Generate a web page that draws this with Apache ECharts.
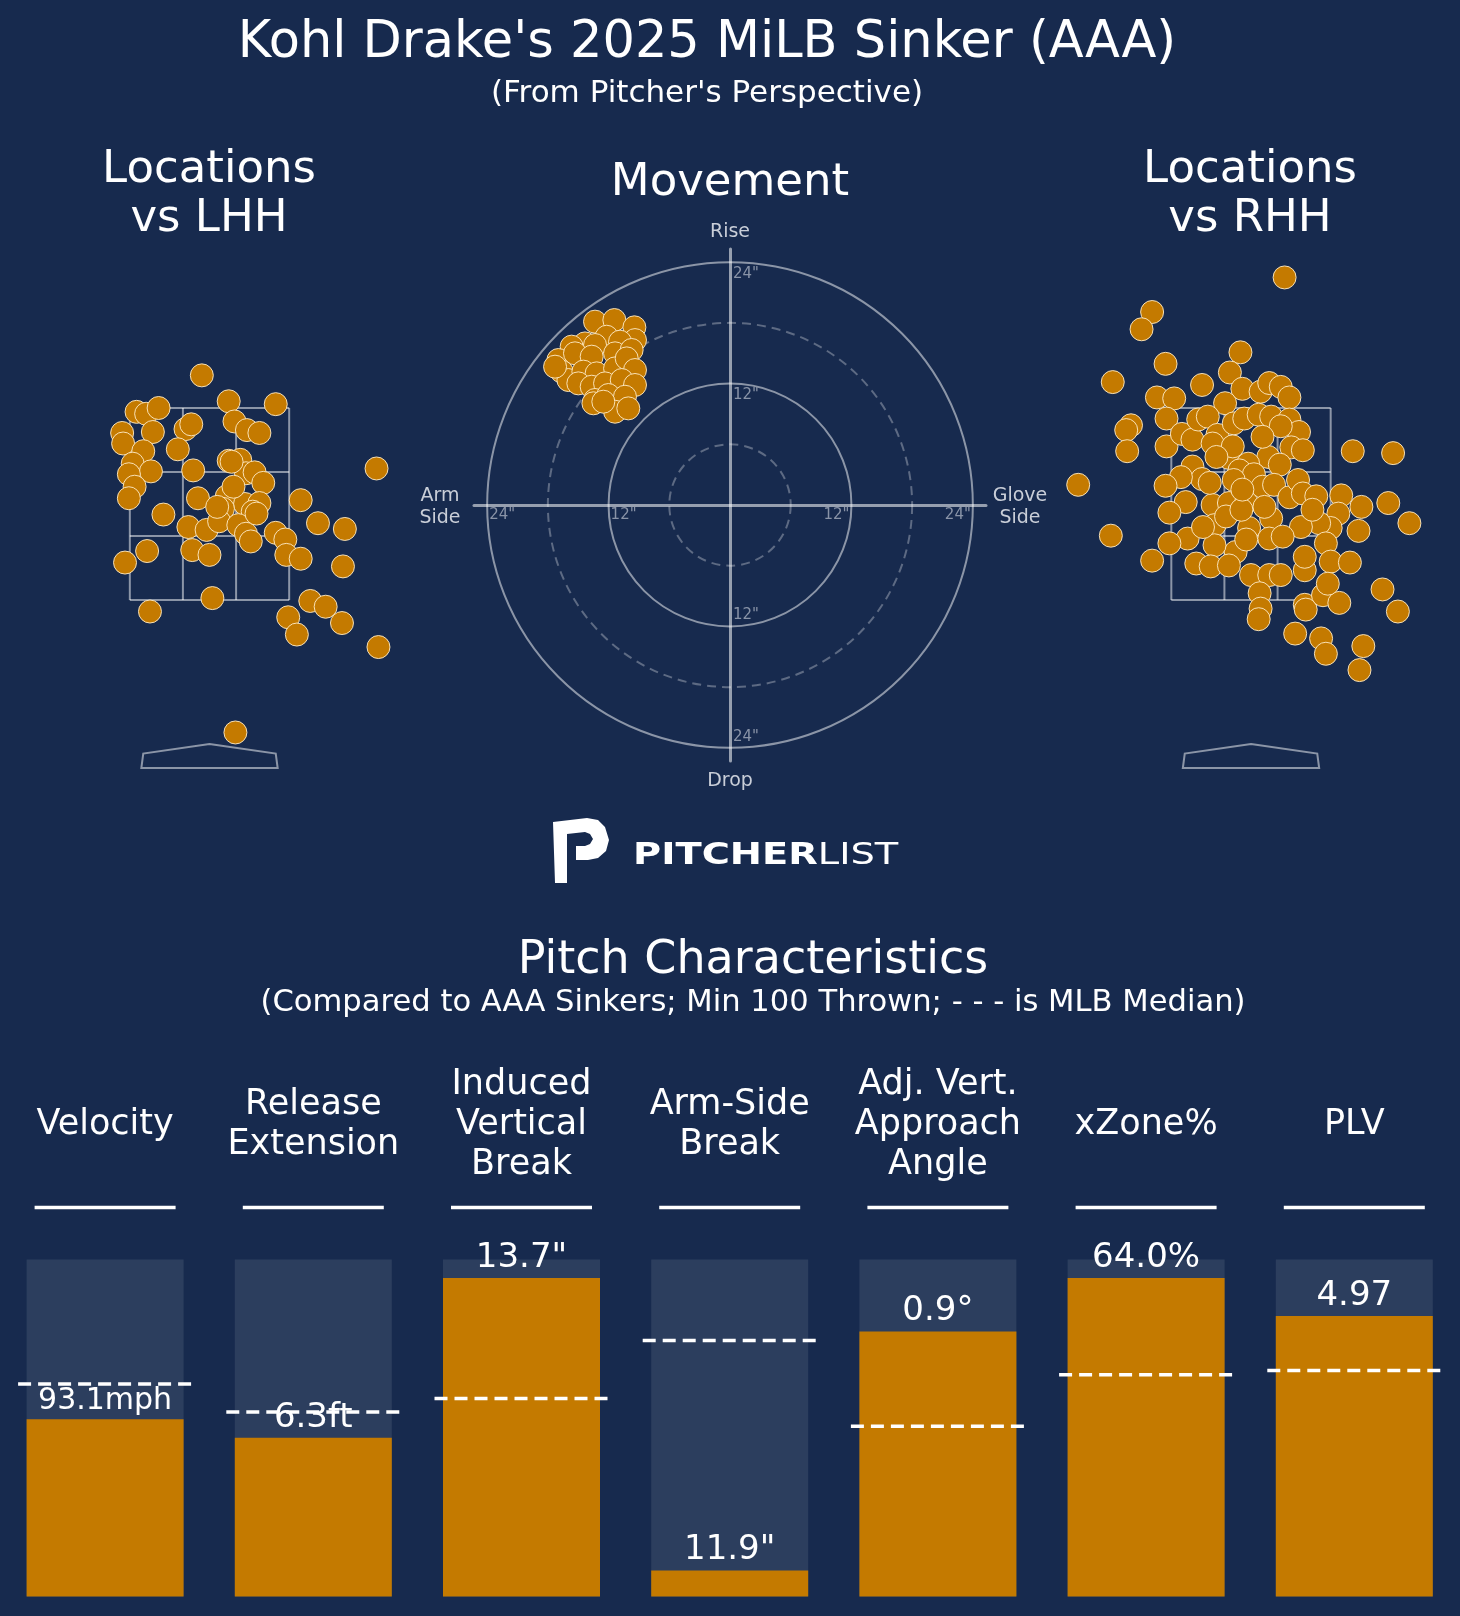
<!DOCTYPE html>
<html>
<head>
<meta charset="utf-8">
<script src="https://cdn.jsdelivr.net/npm/echarts@6/dist/echarts.min.js"></script>
<style>
html,body{margin:0;padding:0;background:#172a4e;}
#main{width:1460px;height:1616px;}
</style>
</head>
<body>
<div id="main"></div>
<script>
//pitch locations vs LHH (feet, pitcher's view)
var lhhX = [-0.08,0.20,0.69,-0.76,-0.66,-0.53,0.26,0.39,0.52,-0.91,-0.90,-0.59,-0.25,-0.19,-0.33,-0.69,-0.80,-0.61,-0.84,-0.78,-0.84,-0.17,0.20,0.32,0.38,0.47,0.56,1.74,-0.12,0.18,0.37,0.52,0.45,0.14,-0.48,0.95,1.13,1.41,-0.22,-0.03,0.10,0.30,0.38,0.43,0.69,0.79,0.80,0.95,-0.65,-0.88,-0.18,0.00,1.39,0.03,-0.62,1.05,1.21,0.82,0.91,1.38,1.76,0.27,0.23,0.25,0.08,0.49];
var lhhZ = [3.84,3.57,3.54,3.46,3.44,3.50,3.36,3.27,3.24,3.24,3.13,3.25,3.28,3.33,3.07,3.05,2.92,2.84,2.81,2.68,2.56,2.85,2.95,2.96,2.82,2.83,2.72,2.87,2.56,2.58,2.50,2.51,2.42,2.45,2.39,2.54,2.30,2.24,2.26,2.23,2.32,2.28,2.19,2.11,2.20,2.13,1.97,1.93,2.01,1.89,2.02,1.97,1.85,1.52,1.38,1.49,1.43,1.32,1.14,1.26,1.01,0.12,2.94,2.68,2.47,2.40];

//pitch locations vs RHH
var rhhX = [0.35,-1.03,-1.14,-0.11,-0.89,-0.22,-1.44,-0.51,-0.98,-0.80,-0.09,0.10,0.19,0.31,0.40,-0.88,-0.27,-1.25,-1.30,-1.29,-0.88,-0.72,-0.61,-0.55,-0.45,-0.35,-0.40,-0.18,-0.07,0.08,0.21,0.40,0.50,0.31,0.42,0.18,0.30,-0.23,-0.03,-0.12,0.03,-0.61,-0.51,-0.73,-0.89,-0.68,-0.85,-0.40,-0.23,-0.05,-0.18,0.12,0.24,0.40,0.49,0.54,0.68,0.94,1.15,0.91,1.12,0.83,0.71,0.52,0.21,-0.02,-0.38,-0.26,0.19,-0.16,-0.38,-0.66,-0.85,-1.03,-0.57,-0.42,-0.23,0.00,0.19,0.31,0.56,0.56,0.78,0.83,1.03,0.09,0.10,0.08,0.56,0.57,0.75,0.92,0.80,0.46,0.73,0.78,1.17,1.37,1.06,-1.80,-1.46,-0.05,-0.19,0.14,-0.10,-0.50,1.48,1.43,1.65,1.53,1.13,-0.36,0.12,-0.09,0.33,-0.43,0.54,0.64];
var rhhZ = [4.86,4.50,4.32,4.08,3.96,3.87,3.77,3.74,3.61,3.60,3.70,3.67,3.76,3.72,3.61,3.39,3.55,3.32,3.27,3.05,3.10,3.23,3.17,3.38,3.41,3.22,3.13,3.34,3.39,3.43,3.41,3.38,3.25,3.31,3.09,2.99,2.91,2.98,2.92,2.85,2.81,2.89,2.76,2.78,2.69,2.52,2.41,2.49,2.51,2.52,2.75,2.68,2.70,2.57,2.75,2.61,2.58,2.59,2.47,2.40,2.22,2.25,2.30,2.26,2.35,2.25,2.28,2.37,2.14,2.00,2.07,2.14,2.09,1.91,1.88,1.85,1.86,1.76,1.76,1.76,1.81,1.95,2.09,1.90,1.89,1.57,1.41,1.30,1.45,1.40,1.55,1.47,1.67,1.15,1.10,0.94,1.02,1.61,3.05,2.70,2.17,2.13,3.10,2.47,2.44,2.26,3.03,2.51,2.30,1.38,0.77,2.99,3.20,2.65,2.16,2.72,3.06,2.44];

//movement (inches): horizontal break (arm side negative), induced vertical break
var movH = [-13.34,-11.43,-9.45,-9.39,-12.19,-14.33,-15.65,-13.34,-10.87,-16.96,-15.32,-13.67,-11.36,-9.72,-16.63,-15.97,-14.49,-13.18,-11.36,-10.21,-9.39,-14.99,-13.67,-12.35,-10.70,-9.39,-13.34,-12.02,-10.38,-13.50,-11.36,-10.05,-12.52,-17.29];
var movV = [18.12,18.28,17.56,16.30,16.63,15.97,15.65,15.81,16.14,14.33,14.99,14.66,14.99,15.32,13.18,12.35,13.18,13.01,13.50,14.49,13.34,12.02,11.69,12.02,12.35,11.86,10.38,10.87,10.70,10.05,9.22,9.55,10.21,13.67];

//pitch characteristics
var metricNames = ['Velocity','Release\nExtension','Induced\nVertical\nBreak','Arm-Side\nBreak','Adj. Vert.\nApproach\nAngle','xZone%','PLV'];
var metricLabels = ['93.1mph','6.3ft','13.7"','11.9"','0.9°','64.0%','4.97'];
var percentiles = [52.6,47.1,94.5,7.7,78.6,94.5,83.2];
var mlbMedian = [63.0,54.7,58.7,75.9,50.5,65.8,67.0];

//reference geometry
var zoneXs = [-0.83,-0.277,0.277,0.83];
var zoneZs = [1.5,2.167,2.833,3.5];
var plateShape = [[0,0],[0.69,-0.1],[0.71,-0.25],[-0.71,-0.25],[-0.69,-0.1]];
var ringRadii = [6,12,18,24];

var FONT = '"DejaVu Sans", sans-serif';
var ORANGE = '#c47a00';
var BG = '#172a4e';
var LINE = 'rgba(255,255,255,0.5)';

function pairs(xs, ys){
	return xs.map(function(x, i){ return [x, ys[i]]; });
}

//strike zone + home plate
function renderZone(params, api){
	var kids = [];
	var st = {stroke: LINE, lineWidth: 2, fill: null};
	zoneXs.forEach(function(x){
		var a = api.coord([x, zoneZs[0]]), b = api.coord([x, zoneZs[3]]);
		kids.push({type:'line', shape:{x1:a[0],y1:a[1],x2:b[0],y2:b[1]}, style:st});
	});
	zoneZs.forEach(function(z){
		var a = api.coord([zoneXs[0], z]), b = api.coord([zoneXs[3], z]);
		kids.push({type:'line', shape:{x1:a[0],y1:a[1],x2:b[0],y2:b[1]}, style:st});
	});
	var pts = plateShape.map(function(p){ return api.coord(p); });
	kids.push({type:'polygon', shape:{points:pts}, style:{stroke:LINE, lineWidth:2, fill:null}});
	return {type:'group', children:kids};
}

//rings of the movement plot
function renderRing(params, api){
	var r = api.value(0);
	var c = api.coord([0, 0]);
	var rp = api.size([r, 0])[0];
	var dashed = (r % 12) != 0;
	return {type:'circle', shape:{cx:c[0], cy:c[1], r:rp},
		style:{fill:null, stroke: dashed ? 'rgba(255,255,255,0.3)' : LINE, lineWidth:2, lineDash: dashed ? [9,6] : null}};
}

//inch labels on the rings
function renderRingLabel(params, api){
	var r = api.value(0);
	var t = r + '"';
	var st = function(x, y, align){
		return {type:'text', x:x, y:y, style:{text:t, fill:'#8993a7', font:'15px ' + FONT, align:align, verticalAlign:'middle', textAlign:align, textVerticalAlign:'middle'}};
	};
	var top = api.coord([0, r]), bot = api.coord([0, -r]), lf = api.coord([-r, 0]), rt = api.coord([r, 0]);
	return {type:'group', children:[
		st(top[0] + 3, top[1] + 12, 'left'),
		st(bot[0] + 3, bot[1] - 11, 'left'),
		st(lf[0] + 15, lf[1] + 10, 'center'),
		st(rt[0] - 15, rt[1] + 10, 'center')
	]};
}

//median dashes and header underlines
function renderMedian(params, api){
	var c = api.coord([api.value(0), api.value(1)]);
	var top = api.coord([api.value(0), 100]);
	return {type:'group', children:[
		{type:'line', shape:{x1:c[0]-87, y1:c[1], x2:c[0]+87, y2:c[1]}, style:{stroke:'#ffffff', lineWidth:3.5, lineDash:[13,7]}},
		{type:'line', shape:{x1:top[0]-70.5, y1:top[1]-52, x2:top[0]+70.5, y2:top[1]-52}, style:{stroke:'#ffffff', lineWidth:3.5}}
	]};
}

function text(x, y, s, size, color, weight){
	return {type:'text', x:x, y:y + 3, style:{text:s, fill:color || '#ffffff', font:(weight ? weight + ' ' : '') + size + 'px ' + FONT,
		align:'center', verticalAlign:'middle', textAlign:'center', textVerticalAlign:'middle'}};
}

var myChart = echarts.init(document.getElementById('main'));

var pointStyle = {color: ORANGE, borderColor: 'rgba(255,236,200,0.9)', borderWidth: 1, opacity: 1};

//long value labels are drawn a little smaller
var barData = percentiles.map(function(v, i){
	return {value: v, label: {fontSize: metricLabels[i].length > 6 ? 30 : 34}};
});

var option = {
	backgroundColor: BG,
	animation: false,
	grid: [
		{left: 7.9, top: 216, width: 403.2, height: 576},
		{left: 474, top: 249, width: 512, height: 512},
		{left: 1049.4, top: 216, width: 403.2, height: 576},
		{left: 1, top: 1259.4, width: 1457.4, height: 337}
	],
	xAxis: [
		{gridIndex:0, type:'value', min:-2.1, max:2.1, show:false},
		{gridIndex:1, type:'value', min:-25.3, max:25.3, axisLine:{show:true, onZero:true, lineStyle:{color:'rgba(255,255,255,0.55)', width:3}},
			axisTick:{show:false}, axisLabel:{show:false}, splitLine:{show:false}},
		{gridIndex:2, type:'value', min:-2.1, max:2.1, show:false},
		{gridIndex:3, type:'category', data: metricNames, position:'top',
			axisLine:{show:false}, axisTick:{show:false}, splitLine:{show:false},
			axisLabel:{interval:0, margin:134, verticalAlign:'middle', color:'#ffffff', fontSize:35, lineHeight:40, fontFamily:'DejaVu Sans'}}
	],
	yAxis: [
		{gridIndex:0, type:'value', min:-0.5, max:5.5, show:false},
		{gridIndex:1, type:'value', min:-25.3, max:25.3, axisLine:{show:true, onZero:true, lineStyle:{color:'rgba(255,255,255,0.55)', width:3}},
			axisTick:{show:false}, axisLabel:{show:false}, splitLine:{show:false}},
		{gridIndex:2, type:'value', min:-0.5, max:5.5, show:false},
		{gridIndex:3, type:'value', min:0, max:100, show:false}
	],
	series: [
		{type:'custom', xAxisIndex:0, yAxisIndex:0, renderItem:renderZone, data:[[0,0]], silent:true},
		{type:'scatter', xAxisIndex:0, yAxisIndex:0, data:pairs(lhhX, lhhZ), symbolSize:23, itemStyle:pointStyle, clip:false},
		{type:'custom', xAxisIndex:1, yAxisIndex:1, renderItem:renderRing, data:ringRadii.map(function(r){ return [r, 0]; }), silent:true},
		{type:'custom', xAxisIndex:1, yAxisIndex:1, renderItem:renderRingLabel, data:[[12,0],[24,0]], silent:true},
		{type:'scatter', xAxisIndex:1, yAxisIndex:1, data:pairs(movH, movV), symbolSize:23, itemStyle:pointStyle, clip:false},
		{type:'custom', xAxisIndex:2, yAxisIndex:2, renderItem:renderZone, data:[[0,0]], silent:true},
		{type:'scatter', xAxisIndex:2, yAxisIndex:2, data:pairs(rhhX, rhhZ), symbolSize:23, itemStyle:pointStyle, clip:false},
		{type:'bar', xAxisIndex:3, yAxisIndex:3, data:barData, barWidth:157,
			itemStyle:{color:ORANGE}, showBackground:true, backgroundStyle:{color:'#2c3e5e'},
			label:{show:true, position:'top', distance:3, color:'#ffffff', fontSize:34, fontFamily:'DejaVu Sans',
				formatter:function(p){ return metricLabels[p.dataIndex]; }}},
		{type:'custom', xAxisIndex:3, yAxisIndex:3, renderItem:renderMedian, data:mlbMedian.map(function(m, i){ return [i, m]; }), silent:true, z:5}
	],
	graphic: [
		text(707, 41, "Kohl Drake's 2025 MiLB Sinker (AAA)", 51),
		text(707, 91, "(From Pitcher's Perspective)", 31),
		text(209, 167, 'Locations', 45),
		text(209, 216, 'vs LHH', 45),
		text(730, 180, 'Movement', 45),
		text(1250, 167, 'Locations', 45),
		text(1250, 216, 'vs RHH', 45),
		text(730, 229, 'Rise', 19, '#c9ced8'),
		text(730, 778, 'Drop', 19, '#c9ced8'),
		text(440, 493, 'Arm', 19, '#c9ced8'),
		text(440, 515, 'Side', 19, '#c9ced8'),
		text(1020, 493, 'Glove', 19, '#c9ced8'),
		text(1020, 515, 'Side', 19, '#c9ced8'),
		{type:'polygon', shape:{points:[[553,822],[587,818],[598,820],[605,827],[609,840],[606,851],[598,858],[588,860],[576,860],[576,846],[585,846],[590,844],[593,839],[590,834],[585,832],[567,834],[567,883],[555,883]]},
			style:{fill:'#ffffff'}},
		{type:'text', x:633, y:856, scaleX:1.28, style:{text:'{b|PITCHER}{l|LIST}', verticalAlign:'middle', textVerticalAlign:'middle',
			rich:{b:{fill:'#ffffff', fontSize:30, fontWeight:'bold', fontFamily:'DejaVu Sans'}, l:{fill:'#ffffff', fontSize:30, fontWeight:'normal', fontFamily:'DejaVu Sans'}}}},
		text(753, 958, 'Pitch Characteristics', 46),
		text(753, 1000, '(Compared to AAA Sinkers; Min 100 Thrown; - - - is MLB Median)', 30.6)
	]
};

myChart.setOption(option);
</script>
</body>
</html>
